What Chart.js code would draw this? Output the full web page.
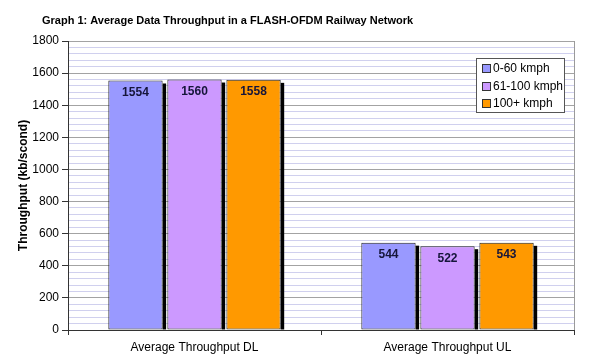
<!DOCTYPE html>
<html><head><meta charset="utf-8">
<script src="https://cdn.jsdelivr.net/npm/chart.js@4"></script>
<style>html,body{margin:0;padding:0;background:#fff;overflow:hidden}</style>
</head><body>
<canvas id="c" width="589" height="359"></canvas>
<script>
const chartTitle = 'Graph 1: Average Data Throughput in a FLASH-OFDM Railway Network';
const categories = ['Average Throughput DL', 'Average Throughput UL'];
const seriesNames = ['0-60 kmph', '61-100 kmph', '100+ kmph'];
const speedLow = [1554, 544];
const speedMid = [1560, 522];
const speedHigh = [1558, 543];
const seriesColors = ['#9999ff', '#cc99ff', '#ff9900'];
const yAxisTitle = 'Throughput (kb/scond)';
const yMin = 0, yMax = 1800, yMajorStep = 200, yMinorStep = 40;

const FONT = "'Liberation Sans', Arial, sans-serif";

const decorPlugin = {
  id: 'decor',
  beforeDatasetsDraw(chart) {
    const {ctx, chartArea: a} = chart;
    ctx.save();
    ctx.strokeStyle = '#9a9a9a';
    ctx.lineWidth = 1;
    ctx.beginPath();
    ctx.moveTo(Math.round(a.right) + 0.5, a.top);
    ctx.lineTo(Math.round(a.right) + 0.5, a.bottom);
    ctx.stroke();
    ctx.fillStyle = '#000';
    chart.data.datasets.forEach((ds, i) => {
      chart.getDatasetMeta(i).data.forEach(bar => {
        const right = bar.x + bar.width / 2;
        ctx.fillRect(right, bar.y + 3, 3.5, bar.base - bar.y - 3);
      });
    });
    ctx.restore();
  },
  afterDatasetsDraw(chart) {
    const {ctx} = chart;
    ctx.save();
    ctx.font = 'bold 12px ' + FONT;
    ctx.fillStyle = '#15153a';
    ctx.textAlign = 'center';
    ctx.textBaseline = 'middle';
    chart.data.datasets.forEach((ds, i) => {
      const meta = chart.getDatasetMeta(i);
      meta.data.forEach((bar, j) => {
        ctx.fillText(String(ds.data[j]), bar.x, bar.y + 12);
      });
    });
    ctx.restore();
  },
  afterDraw(chart) {
    const {ctx} = chart;
    ctx.save();
    ctx.font = 'bold 11px ' + FONT;
    ctx.fillStyle = '#000';
    ctx.textAlign = 'left';
    ctx.textBaseline = 'middle';
    ctx.fillText(chartTitle, 42, 21);
    const bx = 476.5, by = 58.5, bw = 88, bh = 54;
    ctx.fillStyle = '#fff';
    ctx.fillRect(bx, by, bw, bh);
    ctx.strokeStyle = '#555';
    ctx.lineWidth = 1;
    ctx.strokeRect(bx, by, bw, bh);
    ctx.font = '12px ' + FONT;
    chart.data.datasets.forEach((ds, i) => {
      const cy = 69 + i * 17.5;
      ctx.fillStyle = ds.backgroundColor;
      ctx.fillRect(483, Math.round(cy - 4), 7, 7);
      ctx.strokeStyle = '#333';
      ctx.strokeRect(482.5, Math.round(cy - 4) - 0.5, 8, 8);
      ctx.fillStyle = '#000';
      ctx.fillText(ds.label, 493, cy);
    });
    ctx.restore();
  }
};

new Chart(document.getElementById('c'), {
  type: 'bar',
  data: {
    labels: categories,
    datasets: [
      {label: seriesNames[0], data: speedLow, backgroundColor: seriesColors[0]},
      {label: seriesNames[1], data: speedMid, backgroundColor: seriesColors[1]},
      {label: seriesNames[2], data: speedHigh, backgroundColor: seriesColors[2]}
    ].map(d => Object.assign(d, {borderColor: '#222', borderWidth: 1, borderSkipped: false, categoryPercentage: 0.7, barPercentage: 0.92}))
  },
  options: {
    responsive: false,
    devicePixelRatio: 1,
    animation: false,
    layout: {padding: {top: 41, right: 15, left: 0, bottom: 0}},
    plugins: {legend: {display: false}, title: {display: false}, tooltip: {enabled: false}},
    scales: {
      x: {
        grid: {display: true, drawOnChartArea: false, offset: true, tickLength: 5, color: '#333'},
        border: {color: '#333'},
        ticks: {font: {family: FONT, size: 12}, color: '#000', padding: 5, maxRotation: 0},
        afterFit(s) { s.height = 29; }
      },
      y: {
        min: yMin, max: yMax,
        ticks: {
          stepSize: yMinorStep, maxTicksLimit: 1000, autoSkip: false,
          font: {family: FONT, size: 12}, color: '#000', padding: 3,
          callback: v => (v % yMajorStep === 0 ? String(v) : '')
        },
        grid: {
          color: c => (c.tick && c.tick.value % yMajorStep === 0 ? '#a3a3a3' : '#d0d0ee'),
          tickColor: c => (c.tick && c.tick.value % yMajorStep === 0 ? '#333' : 'rgba(0,0,0,0)'),
          tickLength: 6
        },
        border: {color: '#333'},
        title: {display: true, text: yAxisTitle, font: {family: FONT, size: 12, weight: 'bold'}, color: '#000', padding: {top: 16, bottom: 0}},
        afterFit(s) { s.width = 68; }
      }
    }
  },
  plugins: [decorPlugin]
});
</script>
</body></html>
